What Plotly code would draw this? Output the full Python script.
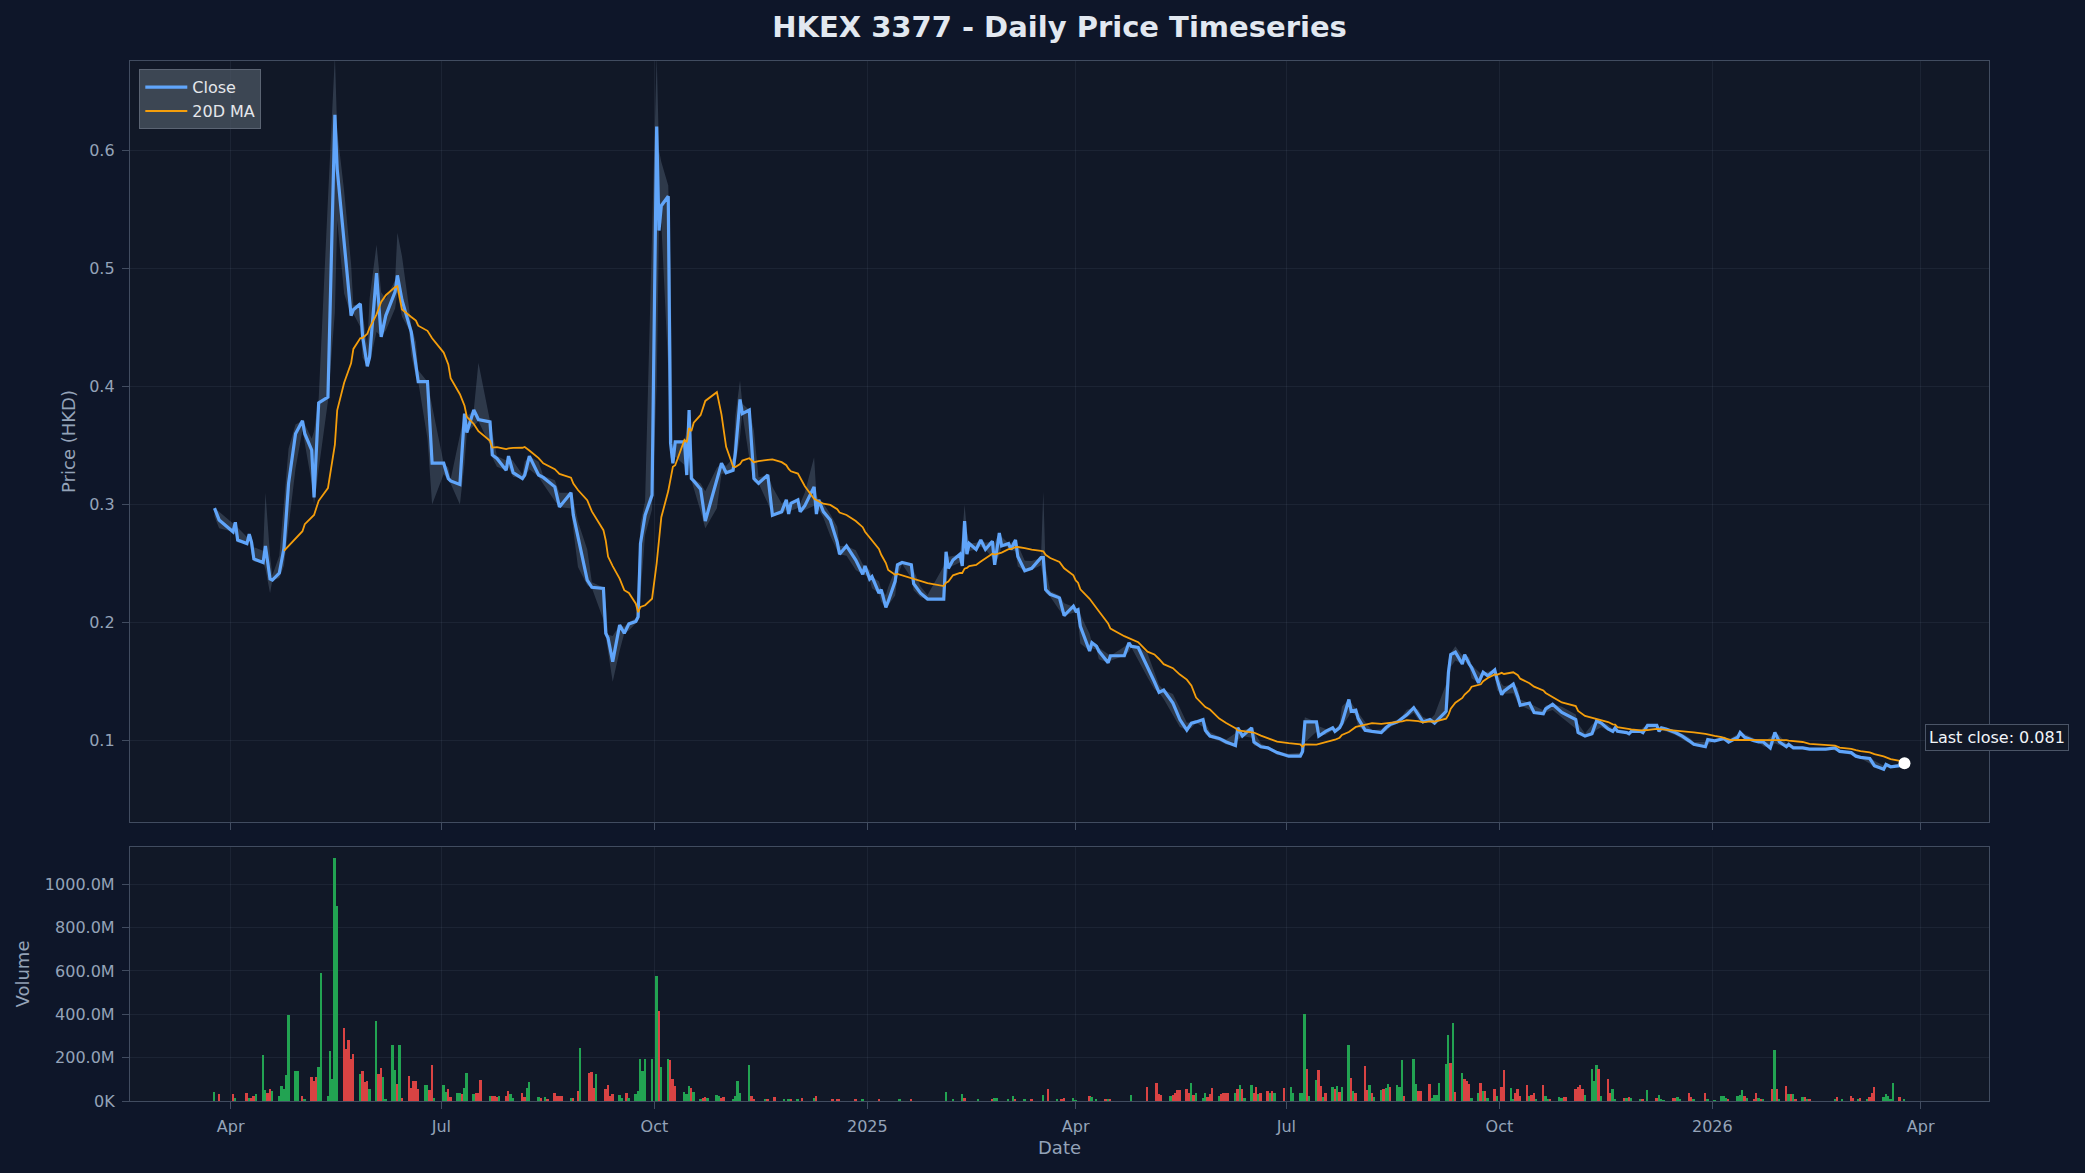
import numpy as np
import pandas as pd
import plotly.graph_objects as go

TITLE = "HKEX 3377 - Daily Price Timeseries"

# ---------------- price data ----------------
close_dates = [
    "2024-03-25", "2024-03-27",
    "2024-04-02", "2024-04-03", "2024-04-04", "2024-04-08", "2024-04-09", "2024-04-10", "2024-04-11", "2024-04-15", "2024-04-16", "2024-04-18", "2024-04-19", "2024-04-22", "2024-04-24", "2024-04-26", "2024-04-29",
    "2024-05-02", "2024-05-03", "2024-05-06", "2024-05-07", "2024-05-09", "2024-05-13", "2024-05-16", "2024-05-17", "2024-05-20", "2024-05-23", "2024-05-24", "2024-05-27", "2024-05-28", "2024-05-30", "2024-05-31",
    "2024-06-03", "2024-06-05", "2024-06-07", "2024-06-11", "2024-06-12", "2024-06-14", "2024-06-17", "2024-06-18", "2024-06-20", "2024-06-21", "2024-06-25", "2024-06-27",
    "2024-07-02", "2024-07-04", "2024-07-05", "2024-07-09", "2024-07-11", "2024-07-12", "2024-07-15", "2024-07-17", "2024-07-22", "2024-07-23", "2024-07-25", "2024-07-29", "2024-07-30",
    "2024-08-01", "2024-08-05", "2024-08-06", "2024-08-08", "2024-08-12", "2024-08-14", "2024-08-19", "2024-08-21", "2024-08-26", "2024-08-27", "2024-08-29",
    "2024-09-02", "2024-09-04", "2024-09-09", "2024-09-10", "2024-09-11", "2024-09-13", "2024-09-16", "2024-09-18", "2024-09-20", "2024-09-23", "2024-09-24", "2024-09-25", "2024-09-27", "2024-09-30",
    "2024-10-02", "2024-10-03", "2024-10-04", "2024-10-07", "2024-10-08", "2024-10-09", "2024-10-10", "2024-10-14", "2024-10-15", "2024-10-16", "2024-10-17", "2024-10-18", "2024-10-21", "2024-10-23", "2024-10-28", "2024-10-30",
    "2024-11-01", "2024-11-04", "2024-11-05", "2024-11-07", "2024-11-08", "2024-11-11", "2024-11-13", "2024-11-15", "2024-11-19", "2024-11-21", "2024-11-25", "2024-11-27", "2024-11-28", "2024-11-29",
    "2024-12-02", "2024-12-03", "2024-12-05", "2024-12-09", "2024-12-10", "2024-12-11", "2024-12-13", "2024-12-16", "2024-12-19", "2024-12-20", "2024-12-23", "2024-12-27", "2024-12-30", "2024-12-31",
    "2025-01-02", "2025-01-03", "2025-01-06", "2025-01-07", "2025-01-09", "2025-01-10", "2025-01-13", "2025-01-14", "2025-01-16", "2025-01-20", "2025-01-21", "2025-01-24", "2025-01-27",
    "2025-02-03", "2025-02-04", "2025-02-05", "2025-02-07", "2025-02-10", "2025-02-11", "2025-02-12", "2025-02-13", "2025-02-14", "2025-02-17", "2025-02-19", "2025-02-21", "2025-02-24", "2025-02-25", "2025-02-27", "2025-02-28",
    "2025-03-03", "2025-03-04", "2025-03-06", "2025-03-07", "2025-03-10", "2025-03-13", "2025-03-17", "2025-03-18", "2025-03-19", "2025-03-21", "2025-03-25", "2025-03-27", "2025-03-31",
    "2025-04-01", "2025-04-02", "2025-04-03", "2025-04-07", "2025-04-08", "2025-04-10", "2025-04-11", "2025-04-15", "2025-04-16", "2025-04-22", "2025-04-24", "2025-04-25", "2025-04-28",
    "2025-05-02", "2025-05-05", "2025-05-07", "2025-05-09", "2025-05-13", "2025-05-16", "2025-05-19", "2025-05-21", "2025-05-23", "2025-05-26", "2025-05-27", "2025-05-29",
    "2025-06-02", "2025-06-05", "2025-06-09", "2025-06-10", "2025-06-12", "2025-06-16", "2025-06-17", "2025-06-20", "2025-06-23", "2025-06-25", "2025-06-27",
    "2025-07-02", "2025-07-07", "2025-07-08", "2025-07-09", "2025-07-14", "2025-07-15", "2025-07-18", "2025-07-21", "2025-07-22", "2025-07-24", "2025-07-25", "2025-07-28", "2025-07-29", "2025-07-31",
    "2025-08-01", "2025-08-04", "2025-08-07", "2025-08-11", "2025-08-13", "2025-08-15", "2025-08-18", "2025-08-20", "2025-08-22", "2025-08-25", "2025-08-27", "2025-08-29",
    "2025-09-01", "2025-09-03", "2025-09-08", "2025-09-09", "2025-09-10", "2025-09-12", "2025-09-15", "2025-09-16", "2025-09-18", "2025-09-19", "2025-09-22", "2025-09-23", "2025-09-24", "2025-09-26", "2025-09-29", "2025-09-30",
    "2025-10-02", "2025-10-03", "2025-10-07", "2025-10-09", "2025-10-10", "2025-10-14", "2025-10-16", "2025-10-20", "2025-10-21", "2025-10-24", "2025-10-28",
    "2025-11-03", "2025-11-04", "2025-11-07", "2025-11-10", "2025-11-12", "2025-11-14", "2025-11-17", "2025-11-19", "2025-11-20", "2025-11-21", "2025-11-25", "2025-11-26", "2025-11-27",
    "2025-12-01", "2025-12-02", "2025-12-04", "2025-12-08", "2025-12-09", "2025-12-10", "2025-12-12", "2025-12-16", "2025-12-19", "2025-12-22", "2025-12-24", "2025-12-29", "2025-12-30",
    "2026-01-02", "2026-01-05", "2026-01-06", "2026-01-08", "2026-01-09", "2026-01-12", "2026-01-13", "2026-01-15", "2026-01-19", "2026-01-21", "2026-01-23", "2026-01-26", "2026-01-28", "2026-01-30",
    "2026-02-02", "2026-02-03", "2026-02-05", "2026-02-09", "2026-02-12", "2026-02-16", "2026-02-19", "2026-02-23", "2026-02-25",
    "2026-03-02", "2026-03-04", "2026-03-06", "2026-03-10", "2026-03-12", "2026-03-16", "2026-03-17", "2026-03-19", "2026-03-23", "2026-03-25",
]
close_values = [
    0.297, 0.287,
    0.277, 0.285, 0.270, 0.267, 0.275, 0.268, 0.254, 0.251, 0.265, 0.237, 0.236, 0.242, 0.263, 0.318, 0.360,
    0.371, 0.360, 0.346, 0.306, 0.386, 0.391, 0.630, 0.584, 0.522, 0.460, 0.465, 0.470, 0.442, 0.417, 0.425,
    0.496, 0.442, 0.460, 0.480, 0.494, 0.473, 0.453, 0.446, 0.418, 0.404, 0.404, 0.335,
    0.335, 0.322, 0.320, 0.317, 0.377, 0.361, 0.380, 0.372, 0.370, 0.342, 0.339, 0.329, 0.341,
    0.327, 0.322, 0.325, 0.341, 0.325, 0.323, 0.315, 0.298, 0.310, 0.291, 0.273,
    0.236, 0.230, 0.229, 0.191, 0.187, 0.167, 0.198, 0.191, 0.199, 0.201, 0.205, 0.267, 0.291, 0.308,
    0.620, 0.532, 0.553, 0.561, 0.352, 0.335, 0.353, 0.353, 0.325, 0.380, 0.322, 0.320, 0.313, 0.286, 0.322, 0.335,
    0.327, 0.329, 0.344, 0.389, 0.377, 0.380, 0.322, 0.318, 0.325, 0.291, 0.294, 0.304, 0.292, 0.301,
    0.304, 0.294, 0.299, 0.315, 0.292, 0.304, 0.294, 0.287, 0.268, 0.258, 0.265, 0.253, 0.241, 0.248,
    0.237, 0.239, 0.225, 0.228, 0.213, 0.218, 0.235, 0.249, 0.251, 0.249, 0.233, 0.225, 0.220,
    0.220, 0.260, 0.246, 0.253, 0.258, 0.248, 0.286, 0.258, 0.267, 0.262, 0.270, 0.262, 0.269, 0.249, 0.276, 0.265,
    0.267, 0.262, 0.270, 0.256, 0.244, 0.246, 0.255, 0.255, 0.228, 0.224, 0.221, 0.206, 0.214,
    0.210, 0.211, 0.197, 0.176, 0.183, 0.180, 0.176, 0.166, 0.172, 0.172, 0.183, 0.180, 0.179,
    0.163, 0.150, 0.141, 0.143, 0.132, 0.118, 0.109, 0.115, 0.116, 0.118, 0.109, 0.104,
    0.102, 0.099, 0.096, 0.111, 0.104, 0.111, 0.099, 0.095, 0.094, 0.092, 0.090,
    0.087, 0.087, 0.091, 0.116, 0.116, 0.104, 0.108, 0.111, 0.108, 0.111, 0.115, 0.135, 0.125, 0.126,
    0.119, 0.109, 0.108, 0.107, 0.111, 0.114, 0.116, 0.119, 0.122, 0.128, 0.122, 0.116,
    0.118, 0.115, 0.125, 0.158, 0.173, 0.175, 0.165, 0.173, 0.165, 0.162, 0.149, 0.154, 0.158, 0.155, 0.160, 0.152,
    0.139, 0.142, 0.148, 0.137, 0.130, 0.132, 0.124, 0.123, 0.127, 0.131, 0.124,
    0.118, 0.107, 0.104, 0.106, 0.117, 0.115, 0.110, 0.108, 0.111, 0.108, 0.107, 0.106, 0.108,
    0.108, 0.107, 0.113, 0.113, 0.108, 0.111, 0.110, 0.107, 0.104, 0.100, 0.097, 0.095, 0.101,
    0.100, 0.101, 0.102, 0.099, 0.100, 0.103, 0.107, 0.103, 0.100, 0.099, 0.099, 0.094, 0.107, 0.099,
    0.095, 0.097, 0.094, 0.094, 0.093, 0.093, 0.093, 0.094, 0.091,
    0.090, 0.087, 0.086, 0.085, 0.079, 0.076, 0.080, 0.078, 0.079, 0.081,
]

# intraday extremes that stick out of the shaded range
high_spike_dates = ["2024-04-16", "2024-05-16", "2024-05-17", "2024-05-20", "2024-06-03", "2024-06-12",
                    "2024-06-14", "2024-07-17", "2024-10-02", "2024-10-03", "2024-10-04", "2024-10-07",
                    "2024-11-07", "2024-12-09", "2025-02-12", "2025-03-18", "2025-07-09", "2025-09-12"]
high_spike_values = [0.310, 0.680, 0.600, 0.560, 0.520, 0.530,
                     0.510, 0.420, 0.680, 0.600, 0.590, 0.570,
                     0.405, 0.340, 0.300, 0.311, 0.120, 0.180]
low_spike_dates = ["2024-04-18", "2024-05-07", "2024-06-27", "2024-07-09", "2024-09-13", "2024-10-23"]
low_spike_values = [0.225, 0.300, 0.300, 0.300, 0.150, 0.280]

# ---------------- volume data (millions of shares) ----------------
vol_dates = [
    "2024-03-25", "2024-03-27",
    "2024-04-02", "2024-04-03", "2024-04-08", "2024-04-09", "2024-04-10", "2024-04-11", "2024-04-12", "2024-04-15", "2024-04-16", "2024-04-17", "2024-04-18", "2024-04-19", "2024-04-22", "2024-04-23", "2024-04-24", "2024-04-25", "2024-04-26", "2024-04-29", "2024-04-30",
    "2024-05-02", "2024-05-03", "2024-05-06", "2024-05-07", "2024-05-08", "2024-05-09", "2024-05-10", "2024-05-13", "2024-05-14", "2024-05-15", "2024-05-16", "2024-05-17", "2024-05-20", "2024-05-21", "2024-05-22", "2024-05-23", "2024-05-24", "2024-05-27", "2024-05-28", "2024-05-29", "2024-05-30", "2024-05-31",
    "2024-06-03", "2024-06-04", "2024-06-05", "2024-06-06", "2024-06-07", "2024-06-10", "2024-06-11", "2024-06-12", "2024-06-13", "2024-06-14", "2024-06-17", "2024-06-18", "2024-06-19", "2024-06-20", "2024-06-21", "2024-06-24", "2024-06-25", "2024-06-26", "2024-06-27", "2024-06-28",
    "2024-07-02", "2024-07-03", "2024-07-04", "2024-07-05", "2024-07-08", "2024-07-09", "2024-07-10", "2024-07-11", "2024-07-12", "2024-07-15", "2024-07-16", "2024-07-17", "2024-07-18", "2024-07-22", "2024-07-23", "2024-07-24", "2024-07-25", "2024-07-26", "2024-07-29", "2024-07-30", "2024-07-31",
    "2024-08-01", "2024-08-05", "2024-08-06", "2024-08-07", "2024-08-08", "2024-08-12", "2024-08-13", "2024-08-15", "2024-08-16", "2024-08-19", "2024-08-20", "2024-08-21", "2024-08-22", "2024-08-26", "2024-08-27", "2024-08-29", "2024-08-30",
    "2024-09-03", "2024-09-04", "2024-09-05", "2024-09-06", "2024-09-10", "2024-09-11", "2024-09-12", "2024-09-13", "2024-09-16", "2024-09-17", "2024-09-19", "2024-09-20", "2024-09-23", "2024-09-24", "2024-09-25", "2024-09-26", "2024-09-27", "2024-09-30",
    "2024-10-02", "2024-10-03", "2024-10-04", "2024-10-07", "2024-10-08", "2024-10-09", "2024-10-10", "2024-10-14", "2024-10-15", "2024-10-16", "2024-10-17", "2024-10-18", "2024-10-21", "2024-10-22", "2024-10-23", "2024-10-24", "2024-10-28", "2024-10-29", "2024-10-30", "2024-10-31",
    "2024-11-04", "2024-11-05", "2024-11-06", "2024-11-07", "2024-11-11", "2024-11-12", "2024-11-13", "2024-11-18", "2024-11-19", "2024-11-22", "2024-11-26", "2024-11-28", "2024-11-29",
    "2024-12-02", "2024-12-04", "2024-12-09", "2024-12-10", "2024-12-17", "2024-12-19", "2024-12-20", "2024-12-27", "2024-12-30",
    "2025-01-06", "2025-01-15", "2025-01-20",
    "2025-02-04", "2025-02-07", "2025-02-11", "2025-02-12", "2025-02-18", "2025-02-24", "2025-02-25", "2025-02-26",
    "2025-03-03", "2025-03-05", "2025-03-06", "2025-03-10", "2025-03-13", "2025-03-18", "2025-03-20", "2025-03-24", "2025-03-26", "2025-03-27", "2025-03-31",
    "2025-04-01", "2025-04-07", "2025-04-08", "2025-04-10", "2025-04-14", "2025-04-15", "2025-04-16", "2025-04-25",
    "2025-05-02", "2025-05-06", "2025-05-07", "2025-05-08", "2025-05-12", "2025-05-13", "2025-05-14", "2025-05-15", "2025-05-16", "2025-05-19", "2025-05-20", "2025-05-21", "2025-05-22", "2025-05-23", "2025-05-26", "2025-05-27", "2025-05-28", "2025-05-29", "2025-05-30",
    "2025-06-02", "2025-06-03", "2025-06-04", "2025-06-05", "2025-06-06", "2025-06-09", "2025-06-10", "2025-06-11", "2025-06-12", "2025-06-13", "2025-06-16", "2025-06-17", "2025-06-18", "2025-06-19", "2025-06-20", "2025-06-23", "2025-06-24", "2025-06-25", "2025-06-26", "2025-06-30",
    "2025-07-03", "2025-07-04", "2025-07-07", "2025-07-08", "2025-07-09", "2025-07-10", "2025-07-11", "2025-07-14", "2025-07-15", "2025-07-16", "2025-07-17", "2025-07-18", "2025-07-21", "2025-07-22", "2025-07-23", "2025-07-24", "2025-07-25", "2025-07-28", "2025-07-29", "2025-07-30", "2025-07-31",
    "2025-08-04", "2025-08-05", "2025-08-06", "2025-08-07", "2025-08-08", "2025-08-11", "2025-08-12", "2025-08-13", "2025-08-14", "2025-08-15", "2025-08-18", "2025-08-19", "2025-08-20", "2025-08-21", "2025-08-25", "2025-08-26", "2025-08-27", "2025-08-28",
    "2025-09-01", "2025-09-02", "2025-09-03", "2025-09-04", "2025-09-05", "2025-09-08", "2025-09-09", "2025-09-10", "2025-09-11", "2025-09-12", "2025-09-15", "2025-09-16", "2025-09-17", "2025-09-18", "2025-09-19", "2025-09-22", "2025-09-23", "2025-09-24", "2025-09-25", "2025-09-26", "2025-09-29", "2025-09-30",
    "2025-10-02", "2025-10-03", "2025-10-06", "2025-10-07", "2025-10-08", "2025-10-09", "2025-10-10", "2025-10-13", "2025-10-14", "2025-10-15", "2025-10-16", "2025-10-17", "2025-10-20", "2025-10-21", "2025-10-22", "2025-10-23", "2025-10-27", "2025-10-28", "2025-10-29", "2025-10-30",
    "2025-11-03", "2025-11-04", "2025-11-05", "2025-11-06", "2025-11-07", "2025-11-10", "2025-11-11", "2025-11-12", "2025-11-13", "2025-11-14", "2025-11-17", "2025-11-18", "2025-11-19", "2025-11-20", "2025-11-24", "2025-11-25", "2025-11-26", "2025-11-27",
    "2025-12-01", "2025-12-02", "2025-12-04", "2025-12-08", "2025-12-09", "2025-12-10", "2025-12-11", "2025-12-15", "2025-12-16", "2025-12-17", "2025-12-18", "2025-12-22", "2025-12-23", "2025-12-24", "2025-12-29", "2025-12-30",
    "2026-01-02", "2026-01-05", "2026-01-06", "2026-01-07", "2026-01-08", "2026-01-12", "2026-01-13", "2026-01-14", "2026-01-15", "2026-01-16", "2026-01-19", "2026-01-20", "2026-01-21", "2026-01-22", "2026-01-23", "2026-01-27", "2026-01-28", "2026-01-29", "2026-01-30",
    "2026-02-02", "2026-02-03", "2026-02-04", "2026-02-05", "2026-02-06", "2026-02-09", "2026-02-10", "2026-02-11", "2026-02-12", "2026-02-23", "2026-02-24", "2026-02-26",
    "2026-03-02", "2026-03-03", "2026-03-05", "2026-03-06", "2026-03-09", "2026-03-10", "2026-03-11", "2026-03-12", "2026-03-16", "2026-03-17", "2026-03-18", "2026-03-19", "2026-03-20", "2026-03-23", "2026-03-25",
]
vol_millions = [
    42, 34,
    31, 16, 36, 12, 16, 23, 31, 210, 50, 39, 56, 47, 23, 70, 56, 121, 397, 140, 140,
    23, 9, 112, 90, 112, 159, 591, 23, 229, 103, 1120, 900, 339, 241, 280, 194, 218, 124, 140, 86, 90, 54,
    367, 124, 152, 112, 8, 257, 143, 78, 257, 12, 115, 62, 90, 90, 56, 73, 73, 50, 168, 12,
    73, 40, 53, 20, 39, 36, 34, 59, 129, 31, 36, 36, 96, 23, 23, 23, 20, 23, 23, 47, 31,
    16, 39, 19, 59, 89, 19, 12, 19, 8, 36, 23, 23, 23, 12, 12, 47, 243,
    128, 135, 62, 124, 56, 75, 23, 31, 26, 12, 36, 16, 31, 47, 194, 140, 194, 194,
    578, 415, 159, 194, 187, 100, 68, 40, 31, 70, 59, 40, 8, 12, 19, 12, 28, 23, 16, 19,
    11, 23, 93, 37, 168, 23, 8, 6, 6, 17, 6, 9, 9,
    6, 12, 12, 23, 6, 6, 6, 6, 6,
    6, 6, 9,
    42, 9, 31, 16, 6, 9, 14, 12,
    9, 23, 9, 8, 6, 28, 56, 11, 11, 16, 16,
    3, 24, 19, 11, 5, 5, 5, 28,
    63, 82, 31, 27, 24, 28, 39, 50, 50, 56, 39, 85, 27, 35, 16, 35, 19, 31, 60,
    24, 31, 36, 36, 35, 35, 55, 75, 56, 16, 75, 36, 66, 31, 39, 47, 35, 44, 35, 60,
    63, 39, 35, 35, 403, 149, 24, 97, 141, 70, 19, 35, 63, 55, 70, 42, 66, 257, 107, 47, 39,
    160, 50, 74, 35, 19, 50, 55, 60, 78, 63, 75, 63, 188, 25, 196, 78, 47, 44,
    78, 16, 28, 27, 85, 169, 306, 173, 361, 42, 130, 102, 91, 78, 16, 39, 85, 47, 47, 16, 55, 24,
    63, 141, 60, 8, 36, 55, 24, 74, 25, 27, 36, 11, 74, 24, 11, 11, 19, 16, 19, 19,
    55, 63, 74, 55, 28, 149, 94, 168, 146, 24, 102, 36, 55, 11, 16, 16, 19, 16,
    8, 11, 50, 16, 27, 8, 3, 16, 16, 19, 11, 35, 19, 8, 35, 11,
    3, 24, 24, 16, 11, 24, 27, 50, 24, 16, 11, 35, 16, 11, 11, 55, 235, 56, 11,
    69, 31, 31, 31, 8, 19, 19, 11, 6, 6, 19, 11,
    24, 16, 11, 16, 11, 19, 39, 63, 19, 31, 24, 11, 85, 19, 8,
]
vol_up = [
    1, 0,
    0, 1, 0, 1, 0, 0, 1, 1, 1, 0, 0, 1, 1, 1, 1, 1, 1, 1, 1,
    0, 1, 0, 0, 0, 1, 1, 1, 1, 1, 1, 1, 0, 0, 0, 0, 0, 1, 0, 0, 0, 1,
    1, 0, 0, 1, 1, 1, 1, 0, 1, 0, 0, 0, 0, 0, 0, 1, 1, 0, 0, 1,
    1, 1, 0, 0, 1, 1, 0, 1, 1, 1, 0, 0, 0, 1, 0, 0, 0, 1, 0, 0, 1,
    1, 0, 0, 1, 1, 1, 0, 1, 0, 0, 0, 0, 0, 1, 0, 0, 1,
    0, 0, 0, 1, 0, 0, 0, 0, 1, 1, 0, 1, 1, 1, 1, 1, 1, 1,
    1, 0, 1, 1, 0, 0, 0, 1, 1, 1, 0, 1, 1, 0, 0, 1, 1, 1, 0, 0,
    1, 1, 1, 1, 1, 0, 0, 1, 0, 0, 1, 1, 0,
    1, 0, 1, 0, 0, 0, 0, 0, 1,
    0, 1, 0,
    1, 1, 1, 0, 1, 0, 1, 1,
    1, 1, 0, 1, 0, 1, 0, 1, 0, 0, 1,
    1, 0, 1, 1, 0, 1, 0, 1,
    0, 0, 0, 0, 1, 0, 0, 0, 0, 0, 0, 1, 0, 1, 1, 1, 0, 0, 0,
    1, 0, 0, 0, 0, 1, 0, 1, 0, 1, 1, 0, 0, 1, 0, 0, 1, 0, 1, 0,
    1, 1, 1, 1, 1, 0, 1, 1, 0, 0, 1, 0, 1, 0, 1, 0, 1, 1, 0, 1, 0,
    0, 0, 1, 0, 1, 1, 0, 1, 1, 0, 1, 1, 1, 0, 1, 1, 0, 0,
    0, 1, 1, 1, 1, 1, 1, 0, 1, 0, 1, 0, 0, 0, 1, 1, 0, 1, 0, 1, 0, 1,
    0, 0, 1, 1, 0, 0, 0, 0, 1, 0, 0, 1, 0, 1, 1, 0, 1, 1, 0, 0,
    0, 0, 0, 0, 1, 1, 1, 1, 0, 1, 0, 0, 1, 1, 0, 1, 0, 1,
    1, 0, 1, 0, 1, 1, 1, 0, 0, 1, 1, 0, 0, 1, 0, 1,
    1, 1, 1, 1, 0, 1, 1, 1, 0, 1, 0, 0, 1, 0, 1, 0, 1, 0, 1,
    0, 1, 0, 1, 0, 1, 0, 1, 0, 1, 0, 1,
    0, 0, 1, 0, 1, 0, 0, 0, 1, 1, 1, 1, 1, 0, 1,
]

# ---------------- axis ticks ----------------
x_tick_dates = ["2024-04-01", "2024-07-01", "2024-10-01", "2025-01-01", "2025-04-01",
                "2025-07-01", "2025-10-01", "2026-01-01", "2026-04-01"]
x_tick_text = ["Apr", "Jul", "Oct", "2025", "Apr", "Jul", "Oct", "2026", "Apr"]
price_ticks = [0.1, 0.2, 0.3, 0.4, 0.5, 0.6]
vol_tick_vals = [0, 200e6, 400e6, 600e6, 800e6, 1000e6]
vol_tick_text = ["0K", "200.0M", "400.0M", "600.0M", "800.0M", "1000.0M"]

# ---------------- styling ----------------
PAPER = "#0e1629"
PLOT = "#111827"
GRID = "rgba(148,163,184,0.09)"
SPINE = "#414c60"
TICK = "#94a3b8"
LABEL = "#94a3b8"
CLOSE_C = "#60a5fa"
MA_C = "#f59e0b"
UP_C = "#22a352"
DOWN_C = "#d94343"
FONT = "DejaVu Sans"

# ---------------- derived series ----------------
n = min(len(close_dates), len(close_values))
close = pd.Series(close_values[:n], index=pd.to_datetime(close_dates[:n])).sort_index()
ma20 = close.rolling("28D").mean()
ma20[close.index < close.index[0] + pd.Timedelta(days=29)] = np.nan

nb_max = close.rolling(3, center=True, min_periods=1).max()
nb_min = close.rolling(3, center=True, min_periods=1).min()
high = close + 0.7 * (nb_max - close)
low = close - 0.7 * (close - nb_min)
for d, v in zip(high_spike_dates, high_spike_values):
    i = close.index.get_indexer([pd.Timestamp(d)], method="nearest")[0]
    high.iloc[i] = max(high.iloc[i], v)
for d, v in zip(low_spike_dates, low_spike_values):
    i = close.index.get_indexer([pd.Timestamp(d)], method="nearest")[0]
    low.iloc[i] = min(low.iloc[i], v)

m = min(len(vol_dates), len(vol_millions), len(vol_up))
vd = pd.to_datetime(vol_dates[:m])
vv = np.array(vol_millions[:m], dtype=float) * 1e6
vcol = [UP_C if u else DOWN_C for u in vol_up[:m]]

span = close.index[-1] - close.index[0]
x_range = [close.index[0] - 0.05 * span, close.index[-1] + 0.05 * span]

fig = go.Figure()

band_x = list(close.index) + list(close.index[::-1])
band_y = list(high.values) + list(low.values[::-1])
fig.add_trace(go.Scatter(x=band_x, y=band_y, fill="toself", mode="lines",
                         line=dict(width=0), fillcolor="rgba(100,116,139,0.36)",
                         hoverinfo="skip", showlegend=False, xaxis="x", yaxis="y"))
fig.add_trace(go.Scatter(x=close.index, y=close.values, mode="lines", name="Close",
                         line=dict(color=CLOSE_C, width=3.2), xaxis="x", yaxis="y"))
fig.add_trace(go.Scatter(x=ma20.index, y=ma20.values, mode="lines", name="20D MA",
                         line=dict(color=MA_C, width=1.8), connectgaps=False,
                         xaxis="x", yaxis="y"))
fig.add_trace(go.Scatter(x=[close.index[-1]], y=[close.values[-1]], mode="markers",
                         marker=dict(size=12, color="#ffffff", line=dict(width=0)),
                         showlegend=False, cliponaxis=False, xaxis="x", yaxis="y"))
fig.add_trace(go.Bar(x=vd, y=vv, marker=dict(color=vcol, line=dict(width=0)),
                     width=0.8 * 86400000, showlegend=False, xaxis="x2", yaxis="y2"))

axis_common = dict(showline=True, mirror=True, linecolor=SPINE, linewidth=1.3,
                   showgrid=True, gridcolor=GRID, gridwidth=1, zeroline=False,
                   ticks="outside", ticklen=7, tickwidth=1.2, tickcolor=SPINE,
                   tickfont=dict(family=FONT, size=16, color=TICK), automargin=False)

fig.update_layout(
    width=2085, height=1173, autosize=False,
    paper_bgcolor=PAPER, plot_bgcolor=PLOT,
    margin=dict(l=130, r=96, t=61, b=72),
    font=dict(family=FONT, color=TICK),
    title=dict(text="<b>" + TITLE + "</b>", x=0.5, xanchor="center", xref="paper",
               y=1 - 27 / 1173, yanchor="middle", yref="container",
               font=dict(family=FONT, size=29, color="#e2e8f0")),
    xaxis=dict(**axis_common, type="date", domain=[0, 1], range=x_range, anchor="y",
               tickvals=pd.to_datetime(x_tick_dates), ticktext=x_tick_text, showticklabels=False),
    xaxis2=dict(**axis_common, type="date", domain=[0, 1], range=x_range, anchor="y2",
                tickvals=pd.to_datetime(x_tick_dates), ticktext=x_tick_text, ticklabelstandoff=4,
                title=dict(text="Date", font=dict(family=FONT, size=18, color=LABEL), standoff=6)),
    yaxis=dict(**axis_common, domain=[0.2683, 1], range=[0.0313, 0.6755], anchor="x",
               tickvals=price_ticks, ticktext=[f"{t:.1f}" for t in price_ticks], ticklabelstandoff=4,
               title=dict(text="Price (HKD)", font=dict(family=FONT, size=18, color=LABEL), standoff=8)),
    yaxis2=dict(**axis_common, domain=[0, 0.2442], range=[0, 1.172e9], anchor="x2",
                tickvals=vol_tick_vals, ticktext=vol_tick_text, ticklabelstandoff=4,
                title=dict(text="Volume", font=dict(family=FONT, size=18, color=LABEL), standoff=10)),
    legend=dict(x=0.005, y=0.992, xanchor="left", yanchor="top",
                bgcolor="rgba(75,85,99,0.75)", bordercolor="#5b6473", borderwidth=1,
                font=dict(family=FONT, size=16, color="#e5e7eb"), tracegroupgap=0,
                itemwidth=42),
    bargap=0,
    showlegend=True,
)

last_val = float(close.values[-1])
fig.add_annotation(x=close.index[-1], y=last_val, xref="x", yref="y",
                   text=f"Last close: {last_val:.3f}", showarrow=False,
                   xanchor="left", yanchor="middle", xshift=20, yshift=26,
                   font=dict(family=FONT, size=16, color="#f1f5f9"),
                   bgcolor=PLOT, bordercolor="#4b5567", borderwidth=1, borderpad=3)

fig.write_html("out.html", config={"displayModeBar": False},
               post_script="document.body.style.margin='0';document.body.style.overflow='hidden';")
